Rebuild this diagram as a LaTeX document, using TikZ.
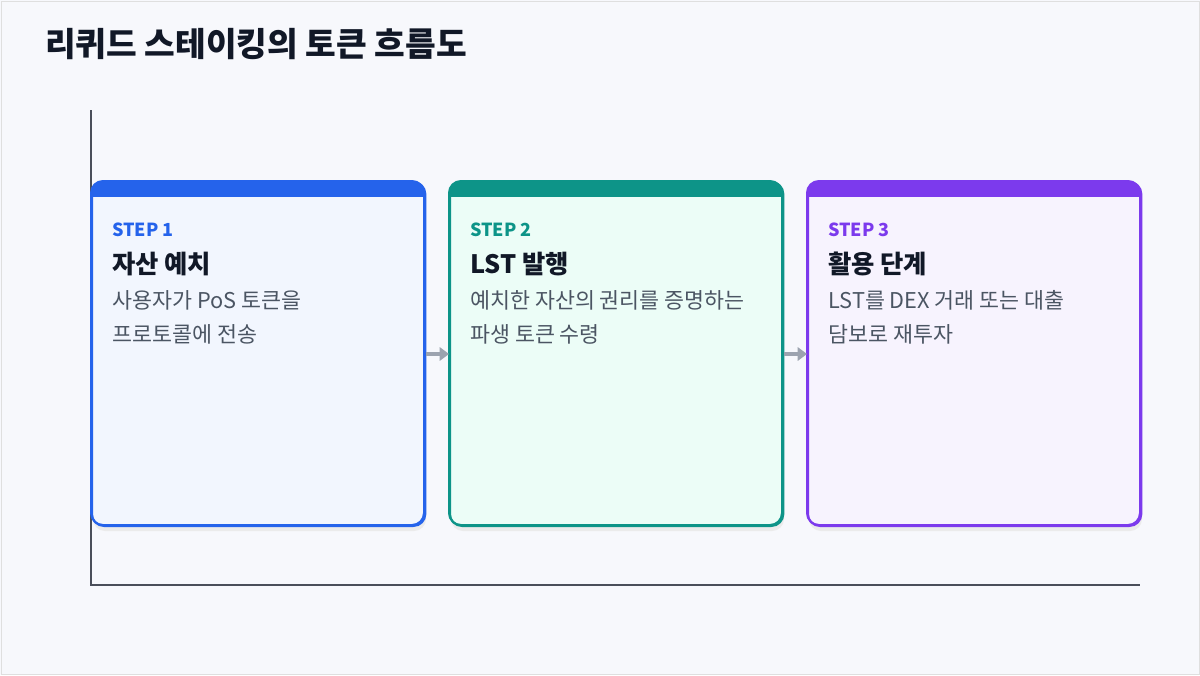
\documentclass[tikz,border=0pt]{standalone}
\usepackage{fontspec}
\setmainfont{Noto Sans CJK KR}
\usetikzlibrary{arrows.meta,positioning}
\definecolor{bgc}{HTML}{F7F8FC}
\definecolor{axisc}{HTML}{4A4E5A}
\definecolor{blu}{HTML}{2563EB}
\definecolor{grn}{HTML}{0D9488}
\definecolor{pur}{HTML}{7C3AED}
\definecolor{txt}{HTML}{111827}
\definecolor{sub}{HTML}{4B5563}
\definecolor{arr}{HTML}{9CA3AF}
\definecolor{mintbg}{HTML}{ECFDF7}
\tikzset{
  card/.style={draw=#1, line width=1.5pt, rounded corners=9pt, minimum width=250pt, minimum height=258pt, anchor=north west, inner sep=0pt},
  steplbl/.style={anchor=west, inner sep=0pt, font=\bfseries\fontsize{13.5}{16}\selectfont, text=#1},
  ttl/.style={anchor=west, inner sep=0pt, font=\bfseries\fontsize{19}{22}\selectfont, text=txt},
  desc/.style={anchor=north west, inner sep=0pt, align=left, font=\fontsize{16.3}{25.5}\selectfont, text=sub},
  flow/.style={-{Triangle[length=7pt,width=10pt]}, line width=2.5pt, draw=arr}
}
% one card: name, x, colour, fill, step, title, text
\newcommand{\stepcard}[7]{%
  \fill[black!8, rounded corners=9pt] (#2+2,185) rectangle ++(333,346);
  \node[card=#3, fill=#4] (#1) at (#2,181) {};
  \begin{scope}
    \clip[rounded corners=9pt] (#2,181) rectangle ++(333,344);
    \fill[#3] (#2,181) rectangle ++(333,16);
  \end{scope}
  \draw[#3, line width=1.5pt, rounded corners=9pt] (#2,181) rectangle ++(333,344);
  \node[steplbl=#3] (#1-step) at (#2+21,230) {#5};
  \node[ttl] (#1-title) at (#2+21,264) {#6};
  \node[desc] (#1-text) at (#2+21,290) {#7};
}
\begin{document}
\begin{tikzpicture}[x=0.75pt, y=-0.75pt]
  \fill[bgc] (0,0) rectangle (1200,675);
  \draw[gray!25] (1,1) rectangle (1199,674);
  \node[anchor=west, inner sep=0pt, font=\bfseries\fontsize{25}{29}\selectfont, text=txt] (head) at (45,44) {리퀴드 스테이킹의 토큰 흐름도};

  % axes
  \coordinate (ytop) at (91,110);
  \coordinate (orig) at (91,585);
  \coordinate (xend) at (1140,585);
  \draw[axisc, line width=1pt] (ytop) -- (orig) -- (xend);

  % cards
  \stepcard{deposit}{91}{blu}{blu!6}{STEP 1}{자산 예치}{사용자가 PoS 토큰을\\프로토콜에 전송}
  \stepcard{mint}{449}{grn}{mintbg}{STEP 2}{LST 발행}{예치한 자산의 권리를 증명하는\\파생 토큰 수령}
  \stepcard{use}{807}{pur}{pur!6}{STEP 3}{활용 단계}{LST를 DEX 거래 또는 대출\\담보로 재투자}

  % flow
  \draw[flow] (deposit.east) -- (mint.west);
  \draw[flow] (mint.east) -- (use.west);
\end{tikzpicture}
\end{document}
